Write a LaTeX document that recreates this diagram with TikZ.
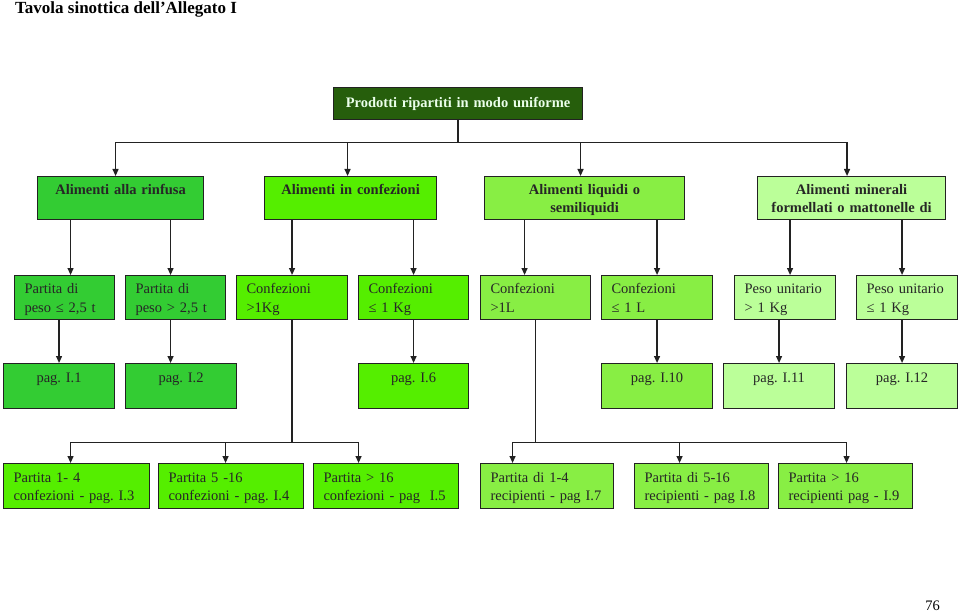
\documentclass[tikz,border=0pt]{standalone}
\usepackage{fontspec}
\setmainfont{Liberation Serif}
\usetikzlibrary{arrows.meta}
\definecolor{topgreen}{RGB}{38,94,12}
\definecolor{bulkgreen}{RGB}{51,204,51}
\definecolor{packgreen}{RGB}{85,238,0}
\definecolor{liqgreen}{RGB}{136,238,68}
\definecolor{mingreen}{RGB}{187,255,153}
\definecolor{inkgray}{RGB}{34,34,34}
\frenchspacing
\begin{document}
\begin{tikzpicture}[x=1pt,y=-1pt,
    box/.style={draw=inkgray,line width=1.1pt,anchor=north west,inner xsep=10pt,inner ysep=0pt,
      text height=12pt,text depth=20pt,text=black!85,font=\fontsize{14.5}{18.5}\selectfont},
    headbox/.style={box,align=center,font=\fontsize{14.5}{18.5}\selectfont\bfseries},
    leafbox/.style={box,align=left},
    pagebox/.style={box,align=center},
    line/.style={draw=inkgray,line width=1.2pt},
    arr/.style={line,-{Triangle[length=7pt,width=6pt]}}]
  \useasboundingbox (0,0) rectangle (960,612);
  \node[anchor=base west,inner sep=0pt,font=\fontsize{17}{20}\selectfont\bfseries] (title) at (15,14) {Tavola sinottica dell’Allegato I};
  \node[anchor=base east,inner sep=0pt,font=\fontsize{14.5}{18.5}\selectfont] (pnum) at (940,610) {76};

  \node[headbox,fill=topgreen,text=white!92!green,text height=,text depth=,inner ysep=2pt,
    text width=229pt,minimum height=32pt] (top) at (333,87) {Prodotti ripartiti in modo uniforme};

  \node[headbox,fill=bulkgreen,text width=146pt,minimum height=43pt] (rinf) at (37,176) {Alimenti alla rinfusa};
  \node[headbox,fill=packgreen,text width=152pt,minimum height=43pt] (conf) at (264,176) {Alimenti in confezioni};
  \node[headbox,fill=liqgreen,text width=180pt,minimum height=43pt] (liq) at (484,176) {Alimenti liquidi o\\semiliquidi};
  \node[headbox,fill=mingreen,text width=168pt,minimum height=43pt] (min) at (757,176) {Alimenti minerali\\formellati o mattonelle di};

  \node[leafbox,fill=bulkgreen,text width=80pt,minimum height=44pt] (p1) at (14,275) {Partita di\\peso ≤ 2,5 t};
  \node[leafbox,fill=bulkgreen,text width=80pt,minimum height=44pt] (p2) at (125,275) {Partita di\\peso > 2,5 t};
  \node[leafbox,fill=packgreen,text width=91pt,minimum height=44pt] (c1) at (236,275) {Confezioni\\>1Kg};
  \node[leafbox,fill=packgreen,text width=90pt,minimum height=44pt] (c2) at (358,275) {Confezioni\\≤ 1 Kg};
  \node[leafbox,fill=liqgreen,text width=90pt,minimum height=44pt] (l1) at (480,275) {Confezioni\\>1L};
  \node[leafbox,fill=liqgreen,text width=91pt,minimum height=44pt] (l2) at (601,275) {Confezioni\\≤ 1 L};
  \node[leafbox,fill=mingreen,text width=81pt,minimum height=44pt] (m1) at (734,275) {Peso unitario\\> 1 Kg};
  \node[leafbox,fill=mingreen,text width=81pt,minimum height=44pt] (m2) at (856,275) {Peso unitario\\≤ 1 Kg};

  \node[pagebox,fill=bulkgreen,text width=91pt,minimum height=45pt] (g1) at (3,363) {pag. I.1};
  \node[pagebox,fill=bulkgreen,text width=91pt,minimum height=45pt] (g2) at (125,363) {pag. I.2};
  \node[pagebox,fill=packgreen,text width=90pt,minimum height=45pt] (g6) at (358,363) {pag. I.6};
  \node[pagebox,fill=liqgreen,text width=91pt,minimum height=45pt] (g10) at (601,363) {pag. I.10};
  \node[pagebox,fill=mingreen,text width=91pt,minimum height=45pt] (g11) at (723,363) {pag. I.11};
  \node[pagebox,fill=mingreen,text width=91pt,minimum height=45pt] (g12) at (846,363) {pag. I.12};

  \node[leafbox,fill=packgreen,text width=126pt,minimum height=45pt] (q1) at (3,463) {Partita 1- 4\\confezioni - pag. I.3};
  \node[leafbox,fill=packgreen,text width=125pt,minimum height=45pt] (q2) at (158,463) {Partita 5 -16\\confezioni - pag. I.4};
  \node[leafbox,fill=packgreen,text width=125pt,minimum height=45pt] (q3) at (313,463) {Partita > 16\\confezioni - pag~~I.5};
  \node[leafbox,fill=liqgreen,text width=113pt,minimum height=45pt] (r1) at (480,463) {Partita di 1-4\\recipienti - pag I.7};
  \node[leafbox,fill=liqgreen,text width=114pt,minimum height=45pt] (r2) at (634,463) {Partita di 5-16\\recipienti - pag I.8};
  \node[leafbox,fill=liqgreen,text width=114pt,minimum height=45pt] (r3) at (778,463) {Partita > 16\\recipienti pag - I.9};

  \coordinate (j0) at ([yshift=-22.5pt]top.south);
  \draw[line] (top.south) -- (j0);
  \draw[arr] (j0) -| ([xshift=-5pt]rinf.north);
  \draw[arr] (j0) -| ([xshift=-3pt]conf.north);
  \draw[arr] (j0) -| ([xshift=-4pt]liq.north);
  \draw[arr] (j0) -| ([xshift=-4.5pt]min.north);

  \draw[arr] ([xshift=6pt]p1.north |- rinf.south) -- ([xshift=6pt]p1.north);
  \draw[arr] ([xshift=-5pt]p2.north |- rinf.south) -- ([xshift=-5pt]p2.north);
  \draw[arr] (c1.north |- conf.south) -- (c1.north);
  \draw[arr] (c2.north |- conf.south) -- (c2.north);
  \draw[arr] ([xshift=-11pt]l1.north |- liq.south) -- ([xshift=-11pt]l1.north);
  \draw[arr] (l2.north |- liq.south) -- (l2.north);
  \draw[arr] ([xshift=5pt]m1.north |- min.south) -- ([xshift=5pt]m1.north);
  \draw[arr] ([xshift=-5pt]m2.north |- min.south) -- ([xshift=-5pt]m2.north);

  \draw[arr] (p1.south -| g1.north) -- (g1.north);
  \draw[arr] ([xshift=-5pt]p2.south) -- ([xshift=-5pt]p2.south |- g2.north);
  \draw[arr] (c2.south) -- (g6.north);
  \draw[arr] (l2.south) -- (l2.south |- g10.north);
  \draw[arr] (m1.south -| g11.north) -- (g11.north);
  \draw[arr] (m2.south -| g12.north) -- (g12.north);

  \coordinate (j1) at ([yshift=-122pt]c1.south);
  \draw[line] (c1.south) -- (j1);
  \draw[arr] (j1) -| ([xshift=-6pt]q1.north);
  \draw[arr] (j1) -| ([xshift=-5.5pt]q2.north);
  \draw[arr] (j1) -| ([xshift=-27.5pt]q3.north);

  \coordinate (j2) at ([yshift=-122pt]l1.south);
  \draw[line] (l1.south) -- (j2);
  \draw[arr] (j2) -| ([xshift=-34.5pt]r1.north);
  \draw[arr] (j2) -| ([xshift=-22pt]r2.north);
  \draw[arr] (j2) -| ([xshift=1pt]r3.north);
\end{tikzpicture}
\end{document}
